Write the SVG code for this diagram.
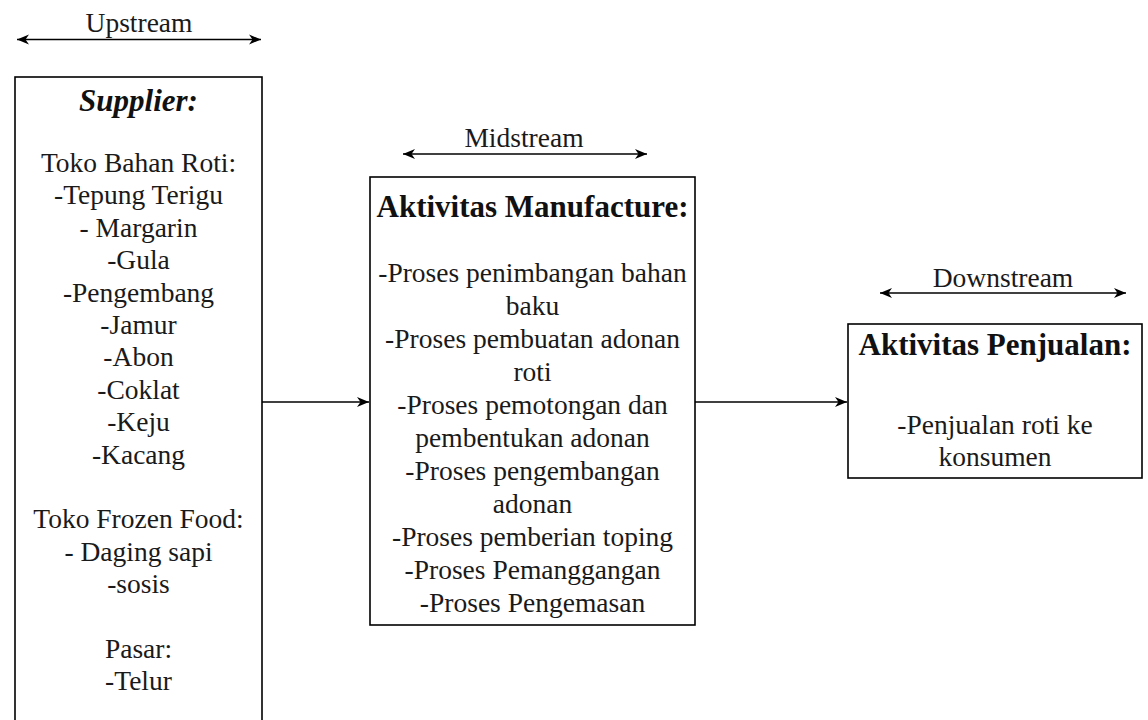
<svg xmlns="http://www.w3.org/2000/svg" width="1148" height="720" viewBox="0 0 1148 720">
<style>
  .box{fill:#fff;stroke:#000;stroke-width:1.6}
  .t{font-family:"Liberation Serif","Times New Roman",serif;font-size:27.5px;fill:#1a1a1a;text-anchor:middle}
  .h{font-family:"Liberation Serif","Times New Roman",serif;font-size:31px;font-weight:bold;fill:#111;text-anchor:middle}
  .hi{font-style:italic}
  .ln{stroke:#000;stroke-width:1.6;fill:none}
</style>
<defs>
  <marker id="ah" markerUnits="userSpaceOnUse" markerWidth="13" markerHeight="11" refX="12" refY="5.5" orient="auto-start-reverse" viewBox="0 0 13 11">
    <path d="M0,0.5 L12,5.5 L0,10.5 L3.5,5.5 Z" fill="#000"/>
  </marker>
</defs>
<rect width="1148" height="720" fill="#fff"/>

<g id="stream-labels">
  <text class="t" x="139" y="32">Upstream</text>
  <text class="t" x="524" y="147">Midstream</text>
  <text class="t" x="1003" y="287">Downstream</text>
</g>

<g id="supplier">
  <rect class="box" x="15" y="77" width="247" height="670"/>
  <text class="h hi" x="138.5" y="111">Supplier:</text>
  <text class="t" x="138.5" y="172">Toko Bahan Roti:</text>
  <text class="t" x="138.5" y="204.4">-Tepung Terigu</text>
  <text class="t" x="138.5" y="236.8">- Margarin</text>
  <text class="t" x="138.5" y="269.2">-Gula</text>
  <text class="t" x="138.5" y="301.6">-Pengembang</text>
  <text class="t" x="138.5" y="334">-Jamur</text>
  <text class="t" x="138.5" y="366.4">-Abon</text>
  <text class="t" x="138.5" y="398.8">-Coklat</text>
  <text class="t" x="138.5" y="431.2">-Keju</text>
  <text class="t" x="138.5" y="463.6">-Kacang</text>
  <text class="t" x="138.5" y="528.4">Toko Frozen Food:</text>
  <text class="t" x="138.5" y="560.8">- Daging sapi</text>
  <text class="t" x="138.5" y="593.2">-sosis</text>
  <text class="t" x="138.5" y="658">Pasar:</text>
  <text class="t" x="138.5" y="690.4">-Telur</text>
</g>

<g id="manufacture">
  <rect class="box" x="370" y="177" width="325" height="448"/>
  <text class="h" x="532.5" y="217">Aktivitas Manufacture:</text>
  <text class="t" x="532.5" y="282">-Proses penimbangan bahan</text>
  <text class="t" x="532.5" y="315">baku</text>
  <text class="t" x="532.5" y="348">-Proses pembuatan adonan</text>
  <text class="t" x="532.5" y="381">roti</text>
  <text class="t" x="532.5" y="414">-Proses pemotongan dan</text>
  <text class="t" x="532.5" y="447">pembentukan adonan</text>
  <text class="t" x="532.5" y="480">-Proses pengembangan</text>
  <text class="t" x="532.5" y="513">adonan</text>
  <text class="t" x="532.5" y="546">-Proses pemberian toping</text>
  <text class="t" x="532.5" y="579">-Proses Pemanggangan</text>
  <text class="t" x="532.5" y="612">-Proses Pengemasan</text>
</g>

<g id="penjualan">
  <rect class="box" x="848" y="324" width="294" height="154"/>
  <text class="h" x="995" y="355">Aktivitas Penjualan:</text>
  <text class="t" x="995" y="434">-Penjualan roti ke</text>
  <text class="t" x="995" y="466">konsumen</text>
</g>

<g id="connectors">
  <line class="ln" x1="17" y1="39.5" x2="261" y2="39.5" marker-start="url(#ah)" marker-end="url(#ah)"/>
  <line class="ln" x1="403" y1="154" x2="647" y2="154" marker-start="url(#ah)" marker-end="url(#ah)"/>
  <line class="ln" x1="880" y1="293" x2="1126" y2="293" marker-start="url(#ah)" marker-end="url(#ah)"/>
  <line class="ln" x1="262" y1="402" x2="369" y2="402" marker-end="url(#ah)"/>
  <line class="ln" x1="695" y1="402" x2="847" y2="402" marker-end="url(#ah)"/>
</g>
</svg>
